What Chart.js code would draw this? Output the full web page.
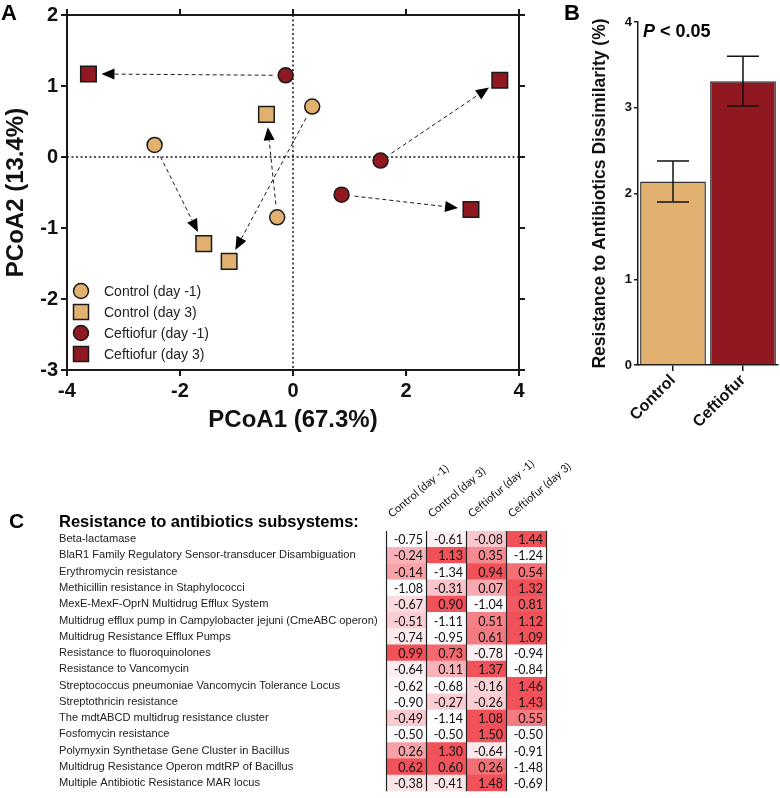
<!DOCTYPE html>
<html>
<head>
<meta charset="utf-8">
<script src="https://cdn.jsdelivr.net/npm/chart.js@4.4.0/dist/chart.umd.min.js"></script>
<style>
    body { margin: 0; background: #fff; }
    #wrap { position: relative; width: 780px; height: 798px; }
    canvas { position: absolute; }
</style>
</head>
<body>
<div id="wrap">
    <canvas id="pcoa_chart" width="535" height="435" style="left:0;top:0"></canvas>
    <canvas id="bar_chart" width="240" height="440" style="left:540px;top:0"></canvas>
    <canvas id="heat_chart" width="780" height="358" style="left:0;top:440px"></canvas>
</div>
<script>
// panel A - PCoA coordinates (day -1 -> day 3 share the same index)
var ctrlPreX = [-2.45, 0.34, -0.28];
var ctrlPreY = [0.17, 0.71, -0.85];
var ctrlPostX = [-1.58, -1.13, -0.47];
var ctrlPostY = [-1.22, -1.47, 0.60];
var ceftPreX = [-0.13, 1.55, 0.86];
var ceftPreY = [1.15, -0.05, -0.53];
var ceftPostX = [-3.62, 3.66, 3.15];
var ceftPostY = [1.17, 1.08, -0.74];
var groupLabels = ['Control (day -1)', 'Control (day 3)', 'Ceftiofur (day -1)', 'Ceftiofur (day 3)'];

// panel B
var barCategories = ['Control', 'Ceftiofur'];
var barMeans = [2.14, 3.31];
var barErrors = [0.24, 0.29];

// panel C
var heatColumns = ['Control (day -1)', 'Control (day 3)', 'Ceftiofur (day -1)', 'Ceftiofur (day 3)'];
var subsystems = [
    'Beta-lactamase',
    'BlaR1 Family Regulatory Sensor-transducer Disambiguation',
    'Erythromycin resistance',
    'Methicillin resistance in Staphylococci',
    'MexE-MexF-OprN Multidrug Efflux System',
    'Multidrug efflux pump in Campylobacter jejuni (CmeABC operon)',
    'Multidrug Resistance Efflux Pumps',
    'Resistance to fluoroquinolones',
    'Resistance to Vancomycin',
    'Streptococcus pneumoniae Vancomycin Tolerance Locus',
    'Streptothricin resistance',
    'The mdtABCD multidrug resistance cluster',
    'Fosfomycin resistance',
    'Polymyxin Synthetase Gene Cluster in Bacillus',
    'Multidrug Resistance Operon mdtRP of Bacillus',
    'Multiple Antibiotic Resistance MAR locus'
];
var heatCtrlPre = [-0.75, -0.24, -0.14, -1.08, -0.67, -0.51, -0.74, 0.99, -0.64, -0.62, -0.90, -0.49, -0.50, 0.26, 0.62, -0.38];
var heatCtrlPost = [-0.61, 1.13, -1.34, -0.31, 0.90, -1.11, -0.95, 0.73, 0.11, -0.68, -0.27, -1.14, -0.50, 1.30, 0.60, -0.41];
var heatCeftPre = [-0.08, 0.35, 0.94, 0.07, -1.04, 0.51, 0.61, -0.78, 1.37, -0.16, -0.26, 1.08, 1.50, -0.64, 0.26, 1.48];
var heatCeftPost = [1.44, -1.24, 0.54, 1.32, 0.81, 1.12, 1.09, -0.94, -0.84, 1.46, 1.43, 0.55, -0.50, -0.91, -1.48, -0.69];

var TAN = 'rgb(226,177,112)';
var RED = 'rgb(143,24,33)';
var INK = '#1a1a1a';
var SANS = 'Liberation Sans, Arial, sans-serif';

function toPoints(xs, ys) {
    return xs.map(function (x, i) { return { x: x, y: ys[i] }; });
}

//Init PCoA scatter
function initPcoaChart() {
    var axisGrid = { drawOnChartArea: false, color: INK, lineWidth: 2, tickLength: 6 };
    var axisBorder = { color: INK, width: 2 };
    var tickFont = { family: SANS, size: 20, weight: 'bold' };

    var arrowPlugin = {
        id: 'arrows',
        beforeDatasetsDraw: function (chart) {
            var ctx = chart.ctx, a = chart.chartArea;
            var sx = chart.scales.x, sy = chart.scales.y;
            ctx.save();
            // zero lines
            ctx.strokeStyle = INK;
            ctx.lineWidth = 1.5;
            ctx.setLineDash([2, 2.5]);
            ctx.beginPath();
            ctx.moveTo(sx.getPixelForValue(0), a.top);
            ctx.lineTo(sx.getPixelForValue(0), a.bottom);
            ctx.moveTo(a.left, sy.getPixelForValue(0));
            ctx.lineTo(a.right, sy.getPixelForValue(0));
            ctx.stroke();
            // day -1 -> day 3 arrows
            var pairs = [[ctrlPreX, ctrlPreY, ctrlPostX, ctrlPostY], [ceftPreX, ceftPreY, ceftPostX, ceftPostY]];
            pairs.forEach(function (p) {
                for (var i = 0; i < p[0].length; i++) {
                    var x0 = sx.getPixelForValue(p[0][i]), y0 = sy.getPixelForValue(p[1][i]);
                    var x1 = sx.getPixelForValue(p[2][i]), y1 = sy.getPixelForValue(p[3][i]);
                    var dx = x1 - x0, dy = y1 - y0, len = Math.sqrt(dx * dx + dy * dy);
                    var ux = dx / len, uy = dy / len;
                    var sxp = x0 + ux * 13, syp = y0 + uy * 13;
                    var tx = x1 - ux * 13, ty = y1 - uy * 13;
                    var bx = tx - ux * 13, by = ty - uy * 13;
                    ctx.setLineDash([4, 3]);
                    ctx.lineWidth = 1;
                    ctx.beginPath();
                    ctx.moveTo(sxp, syp);
                    ctx.lineTo(bx, by);
                    ctx.stroke();
                    ctx.setLineDash([]);
                    ctx.fillStyle = '#000';
                    ctx.beginPath();
                    ctx.moveTo(tx, ty);
                    ctx.lineTo(bx - uy * 5.5, by + ux * 5.5);
                    ctx.lineTo(bx + uy * 5.5, by - ux * 5.5);
                    ctx.closePath();
                    ctx.fill();
                }
            });
            ctx.restore();
        },
        afterDraw: function (chart) {
            var ctx = chart.ctx;
            ctx.save();
            ctx.fillStyle = '#000';
            ctx.font = 'bold 22px ' + SANS;
            ctx.textBaseline = 'middle';
            ctx.fillText('A', 1, 14);
            // legend inside the plot
            ctx.font = '14px ' + SANS;
            chart.data.datasets.forEach(function (ds, i) {
                var y = 291 + i * 21, x = 81;
                ctx.fillStyle = ds.backgroundColor;
                ctx.strokeStyle = INK;
                ctx.lineWidth = 1.5;
                ctx.beginPath();
                if (ds.pointStyle === 'circle') ctx.arc(x, y, 7.5, 0, Math.PI * 2);
                else ctx.rect(x - 7.5, y - 7.5, 15, 15);
                ctx.fill();
                ctx.stroke();
                ctx.fillStyle = '#222';
                ctx.fillText(ds.label, 104, y + 1);
            });
            ctx.restore();
        }
    };

    function makeSet(i, xs, ys, color, style) {
        return {
            label: groupLabels[i],
            data: toPoints(xs, ys),
            backgroundColor: color,
            borderColor: INK,
            pointStyle: style,
            pointRadius: style === 'circle' ? 7.5 : 11,
            pointBorderWidth: 1.5
        };
    }

    var config = {
        type: 'scatter',
        data: {
            datasets: [
                makeSet(0, ctrlPreX, ctrlPreY, TAN, 'circle'),
                makeSet(1, ctrlPostX, ctrlPostY, TAN, 'rect'),
                makeSet(2, ceftPreX, ceftPreY, RED, 'circle'),
                makeSet(3, ceftPostX, ceftPostY, RED, 'rect')
            ]
        },
        options: {
            responsive: false,
            animation: false,
            events: [],
            layout: { padding: 0 },
            plugins: { legend: { display: false }, tooltip: { enabled: false } },
            scales: {
                x: {
                    type: 'linear', position: 'bottom', min: -4, max: 4,
                    ticks: { stepSize: 2, color: '#111', font: tickFont, padding: 3 },
                    grid: axisGrid, border: axisBorder,
                    title: { display: true, text: 'PCoA1 (67.3%)', color: '#111', font: { family: SANS, size: 24, weight: 'bold' }, padding: { bottom: 0 } },
                    afterFit: function (s) { s.height = 65; }
                },
                x2: {
                    type: 'linear', position: 'top', min: -4, max: 4,
                    ticks: { stepSize: 2, display: false },
                    grid: axisGrid, border: axisBorder,
                    afterFit: function (s) { s.height = 11; }
                },
                y: {
                    type: 'linear', position: 'left', min: -3, max: 2,
                    ticks: { stepSize: 1, color: '#111', font: tickFont, padding: 3 },
                    grid: axisGrid, border: axisBorder,
                    title: { display: true, text: 'PCoA2 (13.4%)', color: '#111', font: { family: SANS, size: 24, weight: 'bold' }, padding: { top: 2 } },
                    afterFit: function (s) { s.width = 67; }
                },
                y2: {
                    type: 'linear', position: 'right', min: -3, max: 2,
                    ticks: { stepSize: 1, display: false },
                    grid: axisGrid, border: axisBorder,
                    afterFit: function (s) { s.width = 16; }
                }
            }
        },
        plugins: [arrowPlugin]
    };
    return new Chart(document.getElementById('pcoa_chart').getContext('2d'), config);
}

//Init dissimilarity bar chart
function initBarChart() {
    var errorPlugin = {
        id: 'errorBars',
        afterDatasetsDraw: function (chart) {
            var ctx = chart.ctx, sy = chart.scales.y;
            var meta = chart.getDatasetMeta(0);
            ctx.save();
            ctx.strokeStyle = '#111';
            ctx.lineWidth = 1.5;
            meta.data.forEach(function (bar, i) {
                var top = sy.getPixelForValue(barMeans[i] + barErrors[i]);
                var bot = sy.getPixelForValue(barMeans[i] - barErrors[i]);
                ctx.beginPath();
                ctx.moveTo(bar.x, top); ctx.lineTo(bar.x, bot);
                ctx.moveTo(bar.x - 16, top); ctx.lineTo(bar.x + 16, top);
                ctx.moveTo(bar.x - 16, bot); ctx.lineTo(bar.x + 16, bot);
                ctx.stroke();
            });
            ctx.restore();
        },
        afterDraw: function (chart) {
            var ctx = chart.ctx;
            ctx.save();
            ctx.fillStyle = '#000';
            ctx.textBaseline = 'middle';
            ctx.font = 'bold 22px ' + SANS;
            ctx.fillText('B', 24, 14);
            ctx.font = 'italic bold 18px ' + SANS;
            ctx.fillText('P', 103, 32);
            var w = ctx.measureText('P ').width;
            ctx.font = 'bold 18px ' + SANS;
            ctx.fillText('< 0.05', 103 + w, 32);
            ctx.restore();
        }
    };

    var config = {
        type: 'bar',
        data: {
            labels: barCategories,
            datasets: [{
                data: barMeans,
                backgroundColor: [TAN, RED],
                borderColor: '#333',
                borderWidth: 1.5,
                barPercentage: 0.94,
                categoryPercentage: 1
            }]
        },
        options: {
            responsive: false,
            animation: false,
            events: [],
            layout: { padding: { top: 22, right: 2, left: 0, bottom: 0 } },
            plugins: { legend: { display: false }, tooltip: { enabled: false } },
            scales: {
                x: {
                    grid: { drawOnChartArea: false, offset: false, color: INK, lineWidth: 1.5, tickLength: 6 },
                    border: { color: INK, width: 1.5 },
                    ticks: { color: '#111', font: { family: SANS, size: 16, weight: 'bold' }, minRotation: 45, maxRotation: 45, padding: 0 },
                    afterFit: function (s) { s.height = 75; }
                },
                y: {
                    min: 0, max: 4,
                    grid: { drawOnChartArea: false, color: INK, lineWidth: 1.5, tickLength: 4 },
                    border: { color: INK, width: 1.5 },
                    ticks: { stepSize: 1, color: '#111', font: { family: SANS, size: 13, weight: 'bold' }, padding: 2 },
                    title: { display: true, text: 'Resistance to Antibiotics Dissimilarity (%)', color: '#111', font: { family: SANS, size: 17.5, weight: 'bold' }, padding: { top: 50 } },
                    afterFit: function (s) { s.width = 98; }
                }
            }
        },
        plugins: [errorPlugin]
    };
    return new Chart(document.getElementById('bar_chart').getContext('2d'), config);
}

//Init subsystem heatmap (stacked horizontal bars, one cell per bar)
function initHeatChart() {
    var columns = [heatCtrlPre, heatCtrlPost, heatCeftPre, heatCeftPost];

    function cellColor(row, v) {
        var vals = columns.map(function (c) { return c[row]; });
        var lo = Math.min.apply(null, vals), hi = Math.max.apply(null, vals);
        var t = (v - lo) / (hi - lo);
        var r = Math.round(253 - t * (253 - 241));
        var g = Math.round(252 - t * (252 - 82));
        var b = Math.round(255 - t * (255 - 90));
        return 'rgb(' + r + ',' + g + ',' + b + ')';
    }

    var datasets = columns.map(function (col, k) {
        return {
            label: heatColumns[k],
            data: col.map(function () { return 1; }),
            backgroundColor: col.map(function (v, row) { return cellColor(row, v); }),
            borderWidth: 0,
            barPercentage: 1,
            categoryPercentage: 1
        };
    });

    var textPlugin = {
        id: 'cellText',
        afterDatasetsDraw: function (chart) {
            var ctx = chart.ctx, a = chart.chartArea;
            var sx = chart.scales.x, sy = chart.scales.y;
            ctx.save();
            ctx.fillStyle = '#111';
            ctx.font = '12.5px Lato, ' + SANS;
            ctx.textAlign = 'right';
            ctx.textBaseline = 'middle';
            columns.forEach(function (col, k) {
                var right = sx.getPixelForValue(k + 1);
                col.forEach(function (v, row) {
                    ctx.fillText(v.toFixed(2), right - 3, sy.getPixelForValue(row) + 1);
                });
            });
            // column separators
            ctx.strokeStyle = '#222';
            ctx.lineWidth = 1.2;
            for (var k = 0; k <= columns.length; k++) {
                var x = Math.round(sx.getPixelForValue(k)) + 0.5;
                ctx.beginPath();
                ctx.moveTo(x, a.top);
                ctx.lineTo(x, a.bottom);
                ctx.stroke();
            }
            // rotated column headers
            ctx.textAlign = 'left';
            ctx.textBaseline = 'alphabetic';
            ctx.font = '11px Lato, ' + SANS;
            heatColumns.forEach(function (h, k) {
                ctx.save();
                ctx.translate(sx.getPixelForValue(k) + 6, a.top - 13);
                ctx.rotate(-40 * Math.PI / 180);
                ctx.fillText(h, 0, 0);
                ctx.restore();
            });
            // panel letter and title
            ctx.fillStyle = '#000';
            ctx.textBaseline = 'middle';
            ctx.font = 'bold 21px ' + SANS;
            ctx.fillText('C', 9, 82);
            ctx.font = 'bold 16.5px ' + SANS;
            ctx.fillText('Resistance to antibiotics subsystems:', 59, 82);
            ctx.restore();
        }
    };

    var config = {
        type: 'bar',
        data: { labels: subsystems, datasets: datasets },
        options: {
            indexAxis: 'y',
            responsive: false,
            animation: false,
            events: [],
            layout: { padding: { top: 91, bottom: 1, left: 59, right: 234 } },
            plugins: { legend: { display: false }, tooltip: { enabled: false } },
            scales: {
                x: { stacked: true, min: 0, max: 4, display: false },
                y: {
                    stacked: true,
                    grid: { display: false },
                    border: { display: false },
                    ticks: { autoSkip: false, crossAlign: 'far', color: '#222', font: { family: SANS, size: 11.1 }, padding: 0 },
                    afterFit: function (s) { s.width = 327; }
                }
            }
        },
        plugins: [textPlugin]
    };
    return new Chart(document.getElementById('heat_chart').getContext('2d'), config);
}

initPcoaChart();
initBarChart();
initHeatChart();
</script>
</body>
</html>
